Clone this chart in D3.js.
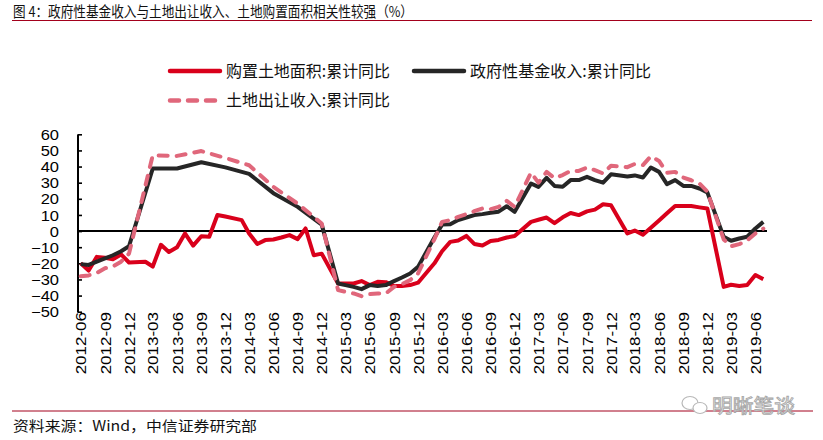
<!DOCTYPE html>
<html><head><meta charset="utf-8">
<script src="https://cdn.jsdelivr.net/npm/d3@7/dist/d3.min.js"></script>
<style>
html,body{margin:0;padding:0;background:#fff;}
svg{display:block;}
</style></head>
<body>
<svg id="c" width="823" height="440"></svg>
<script>
const months = [
"2012-06","2012-07","2012-08","2012-09","2012-10","2012-11","2012-12",
"2013-02","2013-03","2013-04","2013-05","2013-06","2013-07","2013-08","2013-09","2013-10","2013-11","2013-12",
"2014-02","2014-03","2014-04","2014-05","2014-06","2014-07","2014-08","2014-09","2014-10","2014-11","2014-12",
"2015-02","2015-03","2015-04","2015-05","2015-06","2015-07","2015-08","2015-09","2015-10","2015-11","2015-12",
"2016-02","2016-03","2016-04","2016-05","2016-06","2016-07","2016-08","2016-09","2016-10","2016-11","2016-12",
"2017-02","2017-03","2017-04","2017-05","2017-06","2017-07","2017-08","2017-09","2017-10","2017-11","2017-12",
"2018-02","2018-03","2018-04","2018-05","2018-06","2018-07","2018-08","2018-09","2018-10","2018-11","2018-12",
"2019-02","2019-03","2019-04","2019-05","2019-06","2019-07"];

// 购置土地面积:累计同比
const landArea = [
-20,-24.5,-16,-16.5,-17.5,-14.5,-19.5,
-19,-22,-8.5,-13,-10,-1.5,-9,-3.2,-3.5,10,9,
6.8,-1.5,-8,-5.6,-5.2,-4,-2.5,-5,1.6,-15,-14,
-32.5,-32.5,-32.5,-31,-33.5,-31.5,-31.7,-34,-34,-33.5,-32,
-20,-12.5,-6.7,-5.9,-3,-8,-9,-6.2,-5.5,-4,-3.1,
5.7,7,8.4,4.9,8.5,11.2,9.9,12.2,13.3,16.6,16,
-1.5,0.3,-2.3,2,6.5,11,15.5,15.5,15.5,14.7,14,
-34.6,-33.3,-34,-33.5,-27.3,-29.8];

// 政府性基金收入:累计同比
const govFund = [
-20.5,-21,-19,-17,-15,-12.5,-9.4,
null,38.8,null,null,38.8,null,null,42.7,null,null,39.5,
null,35.5,null,null,23.5,null,null,15,null,null,4,
-32.5,-33.5,-34.6,-36,-33.5,-34,-33.5,-31,-28.8,-26.3,-22.2,
-4,4,4.2,6.8,8.4,9.9,10.5,11.3,12,15.4,11.9,
29.5,27.4,33,28,27.5,31.6,31.6,33.6,31.6,30,35.2,
33.8,34.5,33.2,39.4,36.7,29.1,31.6,28,28,26.4,24,
-3.6,-6,-4.6,-3.5,1.6,5.7];

// 土地出让收入:累计同比
const landSale = [
-28,-27.5,-26,-23,-22,-19,-14,
null,47,null,null,46.6,null,null,49.6,null,null,45.3,
null,40.8,null,null,27.4,null,null,17,null,null,4.7,
-36.6,-37.7,-38.7,-40.4,-39.1,-38.7,-38.7,-34.6,-32.9,-30.4,-26.3,
-5,5.7,6.8,8.8,10.5,12.3,14,13.6,15,18.7,15,
36.3,30,36.7,32.8,34.7,37.3,37.3,39.4,37.8,35.7,40.5,
39.6,41.6,40.9,46.4,43.5,36.1,36.7,33.2,31.5,29.5,24.5,
-5.2,-9.4,-8.1,-5.8,-1.5,1.5];

const xTickLabels = ["2012-06","2012-09","2012-12","2013-03","2013-06","2013-09","2013-12",
"2014-03","2014-06","2014-09","2014-12","2015-03","2015-06","2015-09","2015-12",
"2016-03","2016-06","2016-09","2016-12","2017-03","2017-06","2017-09","2017-12",
"2018-03","2018-06","2018-09","2018-12","2019-03","2019-06"];
const yTicks = [-50,-40,-30,-20,-10,0,10,20,30,40,50,60];

const seriesNames = ["购置土地面积:累计同比","政府性基金收入:累计同比","土地出让收入:累计同比"];
const titleText = "图 4：政府性基金收入与土地出让收入、土地购置面积相关性较强（%）";
const sourceText = "资料来源：Wind，中信证券研究部";
const watermarkText = "明晰笔谈";

const RED = "#d9001b", BLACK = "#262626", PINK = "#e0677b";
const parse = s => { const [y,m] = s.split("-").map(Number); return new Date(Date.UTC(y, m-1, 1)); };

const svg = d3.select("#c");
const x = d3.scaleUtc().domain([parse("2012-06"), parse("2019-07")]).range([80.7, 763.3]);
const y = d3.scaleLinear().domain([-50, 60]).range([311.7, 134.3]);

// Title and rules
svg.append("text").attr("x", 13).attr("y", 16.5)
  .attr("font-family", "'Noto Sans CJK SC', sans-serif").attr("font-size", 14.5)
  .attr("fill", "#111").attr("textLength", 400).attr("lengthAdjust", "spacingAndGlyphs")
  .text(titleText);
svg.append("line").attr("x1", 12).attr("x2", 812).attr("y1", 20.5).attr("y2", 20.5)
  .attr("stroke", "#a3001c").attr("stroke-width", 1);
svg.append("line").attr("x1", 12).attr("x2", 813).attr("y1", 411).attr("y2", 411)
  .attr("stroke", "#a3001c").attr("stroke-width", 1);
svg.append("text").attr("x", 13).attr("y", 431)
  .attr("font-family", "'Noto Sans CJK SC', sans-serif").attr("font-size", 14)
  .attr("fill", "#111").attr("textLength", 244).attr("lengthAdjust", "spacingAndGlyphs")
  .text(sourceText);

// Watermark
const wm = svg.append("g").attr("fill", "none").attr("stroke", "#b8b8b8").attr("stroke-width", 1.2);
wm.append("ellipse").attr("cx", 690).attr("cy", 403).attr("rx", 8).attr("ry", 6.5);
wm.append("ellipse").attr("cx", 700).attr("cy", 408).attr("rx", 7).attr("ry", 5.5).attr("fill", "#fff");
svg.append("text").attr("x", 712).attr("y", 413)
  .attr("font-family", "'Noto Sans CJK SC', sans-serif").attr("font-size", 19)
  .attr("fill", "#fff").attr("stroke", "#a8a8a8").attr("stroke-width", 0.9)
  .attr("textLength", 83).attr("lengthAdjust", "spacingAndGlyphs")
  .text(watermarkText);

// Legend
const legendItems = [
  {name: seriesNames[0], color: RED, dash: null, lx: 168, ly: 71, tw: 164},
  {name: seriesNames[1], color: BLACK, dash: null, lx: 412, ly: 71, tw: 181},
  {name: seriesNames[2], color: PINK, dash: "9,9", lx: 168, ly: 100.5, tw: 164}
];
const lg = svg.append("g");
legendItems.forEach(d => {
  lg.append("line").attr("x1", d.lx + 2).attr("x2", d.lx + 52).attr("y1", d.ly).attr("y2", d.ly)
    .attr("stroke", d.color).attr("stroke-width", 4.5).attr("stroke-linecap", "round")
    .attr("stroke-dasharray", d.dash);
  lg.append("text").attr("x", d.lx + 58).attr("y", d.ly).attr("dy", "0.36em")
    .attr("font-family", "'Noto Sans CJK SC', sans-serif").attr("font-size", 16)
    .attr("fill", "#111").attr("textLength", d.tw).attr("lengthAdjust", "spacingAndGlyphs")
    .text(d.name);
});

// Y axis
const yAxis = svg.append("g").attr("transform", "translate(77.5,0)")
  .call(d3.axisLeft(y).tickValues(yTicks).tickSizeInner(-4.5).tickSizeOuter(0).tickPadding(18.5));
yAxis.select(".domain").attr("stroke", "#000").attr("stroke-width", 2);
yAxis.selectAll(".tick line").attr("stroke", "#000").attr("stroke-width", 1.6);
yAxis.selectAll(".tick text")
  .attr("font-family", "'Liberation Sans', Arial, sans-serif").attr("font-size", 16.5)
  .attr("fill", "#000").attr("dy", "0.36em")
  .attr("style", "transform: scale(1,0.86); transform-box: fill-box; transform-origin: center;");

// Zero line
svg.append("line").attr("x1", 77.5).attr("x2", 767).attr("y1", y(0)).attr("y2", y(0))
  .attr("stroke", "#000").attr("stroke-width", 2);

// X axis labels
const xAxis = svg.append("g").attr("transform", "translate(0,312)")
  .call(d3.axisBottom(x).tickValues(xTickLabels.map(parse)).tickSize(0).tickFormat(d3.utcFormat("%Y-%m")));
xAxis.select(".domain").remove();
xAxis.selectAll(".tick text")
  .attr("font-family", "'Liberation Sans', Arial, sans-serif").attr("font-size", 17)
  .attr("fill", "#000").attr("text-anchor", "end")
  .attr("x", 0).attr("y", 0).attr("dy", "0.36em")
  .attr("transform", "rotate(-90) scale(1,0.85)");

// Lines
const lineGen = d3.line().x(d => x(parse(d.m))).y(d => y(d.v));
const mk = arr => months.map((m, i) => ({m, v: arr[i]})).filter(d => d.v !== null);
const plot = svg.append("g").attr("fill", "none").attr("stroke-linejoin", "round");
plot.append("path").datum(mk(landArea)).attr("d", lineGen)
  .attr("stroke", RED).attr("stroke-width", 4);
plot.append("path").datum(mk(govFund)).attr("d", lineGen)
  .attr("stroke", BLACK).attr("stroke-width", 4);
plot.append("path").datum(mk(landSale)).attr("d", lineGen)
  .attr("stroke", PINK).attr("stroke-width", 4).attr("stroke-dasharray", "9,9").attr("stroke-linecap", "round");
</script>
</body></html>
